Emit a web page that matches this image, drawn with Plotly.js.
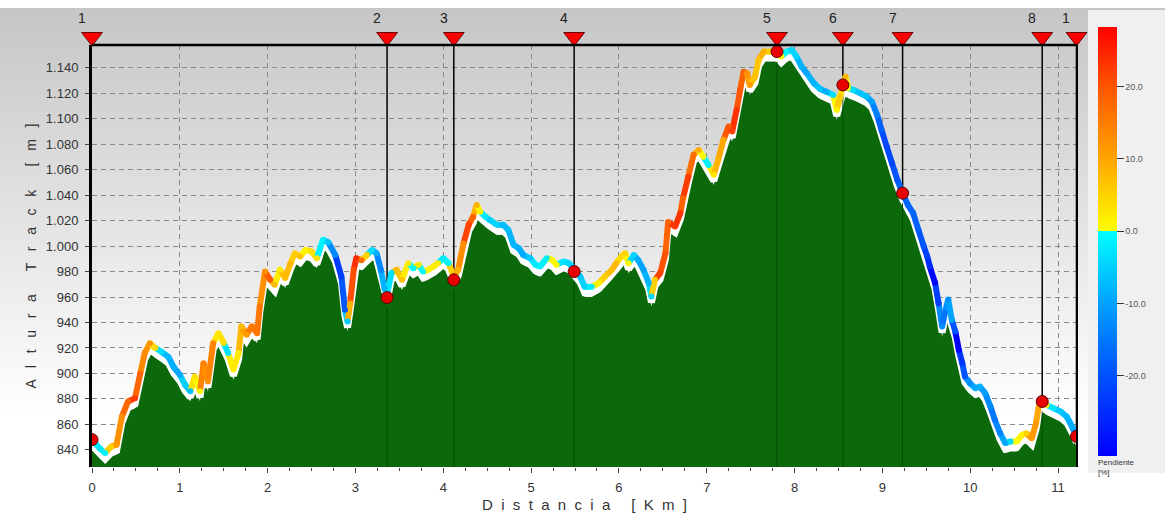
<!DOCTYPE html>
<html><head><meta charset="utf-8">
<script src="https://cdn.plot.ly/plotly-3.0.1.min.js"></script>
<style>
html,body{margin:0;padding:0;}
body{width:1165px;height:517px;overflow:hidden;background:linear-gradient(to bottom,#ffffff 0px,#ffffff 8px,#c6c6c6 8px,#ffffff 420px,#ffffff 517px);}
#chart{width:1165px;height:517px;}
</style></head><body><div id="chart"></div>
<script>
// ---- data ----
const distKm = [0.00,0.09,0.15,0.22,0.28,0.34,0.41,0.49,0.55,0.60,0.66,0.72,0.79,0.87,0.93,1.00,1.06,1.12,1.17,1.23,1.27,1.32,1.38,1.44,1.50,1.55,1.61,1.67,1.70,1.76,1.82,1.88,1.91,1.97,2.03,2.08,2.14,2.20,2.26,2.31,2.37,2.43,2.50,2.56,2.63,2.69,2.77,2.84,2.88,2.91,2.94,2.98,3.01,3.07,3.13,3.19,3.24,3.29,3.33,3.36,3.41,3.47,3.53,3.60,3.66,3.72,3.77,3.83,3.89,3.94,4.00,4.06,4.12,4.17,4.23,4.29,4.34,4.38,4.42,4.48,4.53,4.61,4.68,4.74,4.80,4.86,4.91,4.99,5.05,5.10,5.18,5.24,5.29,5.37,5.43,5.49,5.56,5.61,5.69,5.77,5.84,5.92,5.97,6.03,6.07,6.11,6.17,6.22,6.28,6.34,6.37,6.41,6.47,6.53,6.56,6.64,6.70,6.73,6.79,6.85,6.91,6.96,7.02,7.08,7.13,7.19,7.25,7.29,7.34,7.38,7.42,7.46,7.49,7.55,7.59,7.65,7.72,7.80,7.85,7.91,7.97,8.02,8.08,8.14,8.22,8.29,8.37,8.44,8.48,8.52,8.55,8.58,8.61,8.67,8.75,8.82,8.88,8.94,8.99,9.05,9.11,9.17,9.23,9.29,9.35,9.41,9.47,9.51,9.54,9.60,9.64,9.68,9.71,9.75,9.79,9.83,9.87,9.91,9.94,10.00,10.06,10.11,10.17,10.23,10.28,10.34,10.40,10.46,10.53,10.59,10.64,10.70,10.75,10.78,10.82,10.87,10.95,11.03,11.10,11.16,11.21];
const altM = [848,841,837.5,842.6,844,866,878,880.6,900,916,923.8,920,917,913,905,899,891,886,897.5,886,908,893.6,923.8,931.6,924,916,903,916,937,930.3,937,931.6,952.5,980,973.5,969.6,981.4,975,986.6,994.5,991.8,997,995.7,990.5,1005,1003,993,976,950,940.8,955,981.4,990.5,989,993,997,994.5,981,967,962,979,981.4,973.5,986.6,982.7,985.3,980,981.4,984,986.6,990.5,986.6,976,981.4,1002,1017,1023,1032.4,1027,1023,1020.6,1016.7,1016.7,1012.8,1001,998.4,993.1,990.5,985.3,984,990.5,989.2,985.3,988,986.6,982,976,968,968,971,976,981.4,986.6,992,994.5,986.6,993,989,981.4,971,960.5,973.5,978.8,994.5,1019,1015.4,1026,1037.7,1054.6,1071.7,1075.6,1070.3,1063.8,1056,1067.7,1083.5,1094,1090,1107,1122.7,1137,1135.8,1126.6,1133,1146.3,1152.8,1152.8,1152.8,1149,1152.8,1154,1149,1141,1135.8,1128,1123.5,1121,1118.8,1107,1117.5,1126.6,1133,1124,1122.7,1120,1117.5,1113.5,1103,1091.3,1078,1065,1052,1041.6,1032.4,1026,1012.8,1000,992,984,971,955,936.8,947.4,958,942,933,918.5,908,897.5,892,888.4,889.7,884.5,874,863.6,853,845.3,846.6,846.6,851.7,853,849,861,874,878,875.3,872.7,870,866,858.3,850.5];

const wpLabels = ['1','2','3','4','5','6','7','8','1'];
const wpDist = [0, 3.36, 4.12, 5.49, 7.80, 8.55, 9.23, 10.82, 11.21];
const wpAlt = [848, 959.6, 973.5, 980, 1152.8, 1126.6, 1041.6, 878, 850.5];

const xTickVals = [0,1,2,3,4,5,6,7,8,9,10,11];
const yTickVals = [840,860,880,900,920,940,960,980,1000,1020,1040,1060,1080,1100,1120,1140];
const slopeTicks = [-20,-10,0,10,20];
const slopeStops = [-31,-20,-10,0,0,10,20,28.2];
const slopeColors = ['#0000ff','#0050ff','#00a0ff','#00ffff','#ffff00','#ffa500','#ff5500','#ff0000'];

// ---- styling constants ----
const Y_RANGE = [826.5, 1158];
const X_RANGE = [0, 11.216];
const OFF_FILL = 7.9, OFF_WHITE = 4.7;
const CMIN = slopeStops[0], CMAX = slopeStops[slopeStops.length-1];
const GREEN = '#0b690b';
const GRID = '#8a8a8a';
const MAIN_TOP = 0.94407;   // main plot domain top (strip for waypoint flags above)

const colorscale = slopeStops.map((v,i)=>[(v-CMIN)/(CMAX-CMIN), slopeColors[i]]);

function hex2rgb(h){return [parseInt(h.substr(1,2),16),parseInt(h.substr(3,2),16),parseInt(h.substr(5,2),16)];}
function slopeColor(s){
  s = Math.max(CMIN, Math.min(CMAX, s));
  for(let i=0;i<slopeStops.length-1;i++){
    const a=slopeStops[i], b=slopeStops[i+1];
    if(a===b) continue;
    if(s>=a && (s<b || (s===b && i===slopeStops.length-2))){
      const t=(s-a)/(b-a);
      const c1=hex2rgb(slopeColors[i]), c2=hex2rgb(slopeColors[i+1]);
      const c=c1.map((v,k)=>Math.round(v+(c2[k]-v)*t));
      return 'rgb('+c.join(',')+')';
    }
  }
  return slopeColors[slopeColors.length-1];
}

// slope of each segment (percent), smoothed over neighbouring segments
const n = distKm.length;
const segSlope = [];
for(let i=0;i<n-1;i++){
  const a=Math.max(i-2,0), b=Math.min(i+3,n-1);
  segSlope.push((altM[b]-altM[a])/((distKm[b]-distKm[a])*1000)*100);
}
const ptSlope = distKm.map((_,j)=>segSlope[Math.max(0,Math.min(j-1,n-2))]);

const traces = [];
// green filled profile
traces.push({x:distKm, y:altM, yaxis:'y', mode:'lines', line:{width:0, color:GREEN}, fill:'tozeroy', fillcolor:GREEN, hoverinfo:'skip'});
// white edge
traces.push({x:distKm, y:altM, yaxis:'y2', mode:'lines', line:{width:7, color:'#ffffff'}, hoverinfo:'skip'});
// waypoint vertical lines
const vxTop=[], vyTop=[], vxBot=[], vyBot=[];
for(let i=1;i<wpDist.length;i++){
  vxTop.push(wpDist[i],wpDist[i],null); vyTop.push(wpAlt[i],Y_RANGE[1],null);
  vxBot.push(wpDist[i],wpDist[i],null); vyBot.push(Y_RANGE[0],wpAlt[i]-OFF_FILL,null);
}
traces.push({x:vxBot, y:vyBot, yaxis:'y3', mode:'lines', line:{width:1, color:'#024a02'}, hoverinfo:'skip', connectgaps:false});
traces.push({x:vxTop, y:vyTop, yaxis:'y3', mode:'lines', line:{width:1.5, color:'#000000'}, hoverinfo:'skip', connectgaps:false});
// slope coloured line segments
for(let i=0;i<n-1;i++){
  traces.push({x:[distKm[i],distKm[i+1]], y:[altM[i],altM[i+1]], yaxis:'y3', mode:'lines', line:{width:6, color:slopeColor(segSlope[i])}, hoverinfo:'skip'});
}
// joints + colour bar
traces.push({x:distKm, y:altM, yaxis:'y3', mode:'markers', hoverinfo:'skip',
  marker:{size:6, color:ptSlope, colorscale:colorscale, cmin:CMIN, cmax:CMAX, showscale:true,
    colorbar:{x:1.0213, xanchor:'left', y:0.4776, yanchor:'middle', len:453, lenmode:'pixels', thickness:19, thicknessmode:'pixels',
      outlinewidth:0, xpad:0, ypad:0, tickvals:slopeTicks, ticktext:slopeTicks.map(v=>v.toFixed(1)), ticks:'outside', ticklen:7, tickcolor:'#333', tickwidth:1,
      tickfont:{size:9, color:'#555', family:'Liberation Sans, Arial, sans-serif'},
      title:{text:'Pendiente<br>[%]', side:'bottom', font:{size:8, color:'#333'}}}}});
// waypoint circles
traces.push({x:wpDist, y:wpAlt, yaxis:'y3', mode:'markers', hoverinfo:'skip', marker:{size:12, color:'#e80000', line:{color:'#5a0000', width:1}}});
// top triangles (strip subplot above the profile)
traces.push({x:wpDist, y:wpDist.map(()=>0.32), xaxis:'x2', yaxis:'y5', mode:'markers', cliponaxis:false, hoverinfo:'skip',
  marker:{symbol:'triangle-down', size:18, color:'#ff0000', line:{color:'#6a0000', width:1}}});

const annotations = wpLabels.map((t,i)=>({x:wpDist[i], xref:'x', y:1, yref:'paper', yanchor:'middle', yshift:2, xshift:-10,
  text:t, showarrow:false, font:{size:14, color:'#222'}}));

const layout = {
  width:1165, height:517,
  margin:{l:92, r:88, t:20, b:50, pad:0},
  paper_bgcolor:'rgba(0,0,0,0)', plot_bgcolor:'rgba(0,0,0,0)',
  separators:',.',
  font:{family:'Liberation Sans, Arial, sans-serif', size:13, color:'#333'},
  showlegend:false,
  xaxis:{range:X_RANGE, anchor:'y', tickvals:xTickVals, tickformat:'d', ticks:'outside', ticklen:5, tickcolor:'#444',
    ticklabelstandoff:3,
    showgrid:true, gridcolor:GRID, griddash:'5px,4px', gridwidth:1, zeroline:false, showline:false,
    minor:{dtick:0.25, ticks:'outside', ticklen:3, tickcolor:'#444', showgrid:false},
    title:{text:'D  i  s  t  a  n  c  i  a     [  K  m  ]', standoff:5, font:{size:15, color:'#333'}}},
  xaxis2:{range:X_RANGE, anchor:'y5', visible:false, showgrid:false},
  yaxis:{domain:[0, MAIN_TOP], range:[Y_RANGE[0]+OFF_FILL, Y_RANGE[1]+OFF_FILL], visible:false, showgrid:false},
  yaxis2:{overlaying:'y', range:[Y_RANGE[0]+OFF_WHITE, Y_RANGE[1]+OFF_WHITE], visible:false, showgrid:false},
  yaxis3:{overlaying:'y', side:'left', range:Y_RANGE, tickvals:yTickVals, tickformat:',d', ticks:'outside', ticklen:4, tickcolor:'#444',
    ticklabelstandoff:4,
    showline:true, linewidth:3, linecolor:'#000', showgrid:true, gridcolor:GRID, griddash:'5px,4px', gridwidth:1, zeroline:false,
    title:{text:'A   l   t   u   r   a      T   r   a   c   k      [   m   ]', standoff:6, font:{size:14, color:'#333'}}},
  yaxis5:{domain:[MAIN_TOP, 1], anchor:'x2', range:[0,1], visible:false, showgrid:false},
  shapes:[
    {type:'rect', xref:'paper', yref:'paper', x0:1.0112, x1:1.09, y0:-0.0134, y1:1.0224, fillcolor:'#f0f0f0', line:{width:0}, layer:'below'},
    {type:'line', xref:'x domain', yref:'y domain', x0:0, x1:1, y0:1, y1:1, line:{color:'#000', width:2.5}},
    {type:'line', xref:'x domain', yref:'y domain', x0:1, x1:1, y0:0, y1:1, line:{color:'#000', width:2}}
  ],
  annotations:annotations
};

Plotly.newPlot('chart', traces, layout, {displayModeBar:false, staticPlot:true});
</script></body></html>
